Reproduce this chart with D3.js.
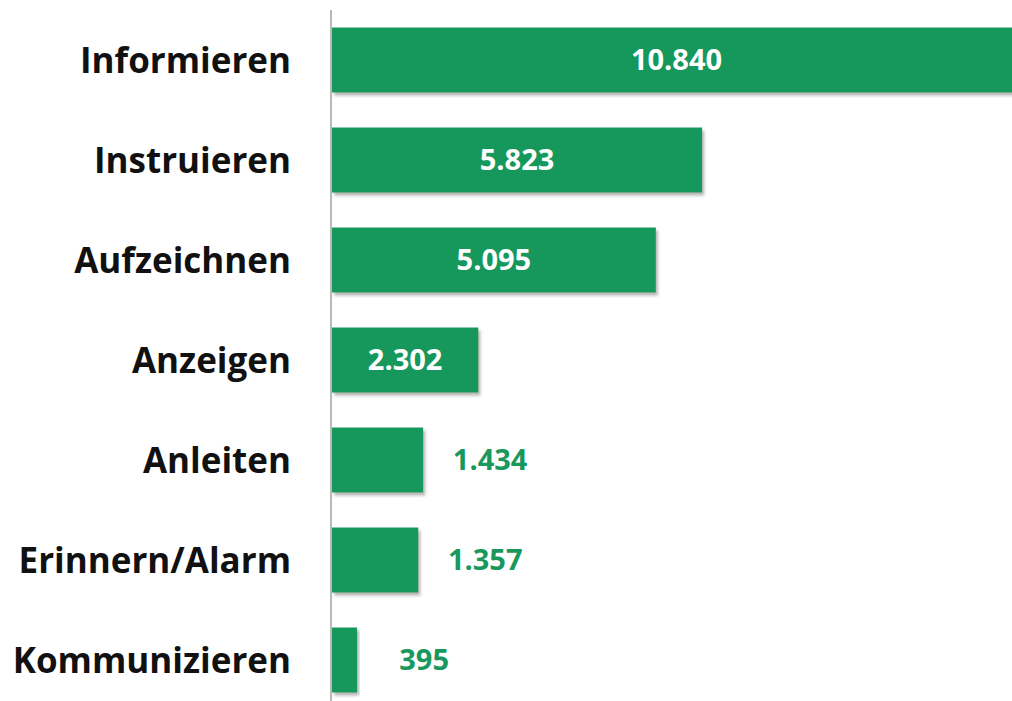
<!DOCTYPE html>
<html>
<head>
    <meta charset="utf-8">
    <title>Bar chart</title>
    <style>
        body { margin: 0; background: #fff; }
    </style>
</head>
<body>
<div id='plot'></div>
<script src="https://cdn.jsdelivr.net/npm/d3@7"></script>
<script>

    const categories = ['Informieren', 'Instruieren', 'Aufzeichnen', 'Anzeigen', 'Anleiten', 'Erinnern/Alarm', 'Kommunizieren'];
    const values = [10840, 5823, 5095, 2302, 1434, 1357, 395];
    const valueLabels = ['10.840', '5.823', '5.095', '2.302', '1.434', '1.357', '395'];

    let svgWidth = 1012;
    let svgHeight = 701;
    let green = '#18985c';
    let font = "'Open Sans', 'DejaVu Sans', sans-serif";

    let data = categories.map((c, i) => ({cat: c, value: values[i], label: valueLabels[i]}));

    let svg = d3.select('#plot')
      .append('svg')
        .attr('width', svgWidth)
        .attr('height', svgHeight);

    let defs = svg.append('defs');
    defs.append('filter')
        .attr('id', 'shadow')
        .attr('x', '-5%').attr('y', '-20%')
        .attr('width', '115%').attr('height', '150%')
      .append('feDropShadow')
        .attr('dx', 2).attr('dy', 3)
        .attr('stdDeviation', 1.8)
        .attr('flood-color', '#777')
        .attr('flood-opacity', 0.55);

    let x = d3.scaleLinear()
      .domain([0, 10840])
      .range([332, 1021]);

    let y = d3.scaleBand()
      .domain(categories)
      .range([10, 710])
      .paddingInner(0.35)
      .paddingOuter(0.175);

    svg.selectAll('rect.bar')
      .data(data)
      .enter()
        .append('rect')
        .attr('class', 'bar')
        .attr('x', x(0))
        .attr('y', d => y(d.cat))
        .attr('width', d => x(d.value) - x(0))
        .attr('height', y.bandwidth())
        .attr('fill', green)
        .attr('filter', 'url(#shadow)');

    // vertical axis line
    svg.append('line')
      .attr('x1', 331).attr('x2', 331)
      .attr('y1', 10).attr('y2', svgHeight)
      .attr('stroke', '#b8b8b8')
      .attr('stroke-width', 2);

    // category labels
    svg.selectAll('text.cat')
      .data(data)
      .enter()
        .append('text')
        .attr('class', 'cat')
        .attr('x', 291)
        .attr('y', d => y(d.cat) + y.bandwidth() / 2)
        .attr('dy', '0.36em')
        .attr('text-anchor', 'end')
        .style('font-family', font)
        .style('font-weight', 'bold')
        .style('font-size', '35px')
        .style('fill', '#111')
        .text(d => d.cat);

    // value labels: inside for wide bars, outside for short ones
    svg.selectAll('text.val')
      .data(data)
      .enter()
        .append('text')
        .attr('class', 'val')
        .attr('x', d => d.value > 2000 ? (x(0) + x(d.value)) / 2 : x(d.value) + 67)
        .attr('y', d => y(d.cat) + y.bandwidth() / 2)
        .attr('dy', '0.36em')
        .attr('text-anchor', 'middle')
        .style('font-family', font)
        .style('font-weight', 'bold')
        .style('font-size', '29px')
        .style('fill', d => d.value > 2000 ? '#fff' : green)
        .text(d => d.label);

</script>
</body>
</html>
